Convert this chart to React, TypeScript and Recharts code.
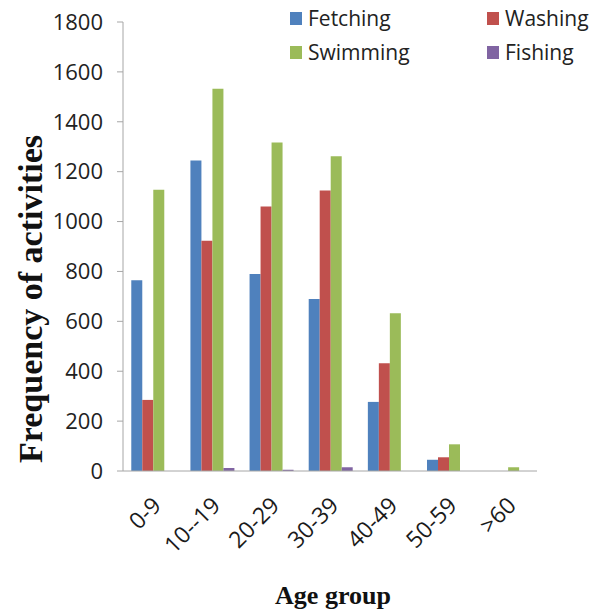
import { Bar, BarChart, Label, XAxis, YAxis } from "recharts";

const ageGroups = ["0-9", "10--19", "20-29", "30-39", "40-49", "50-59", ">60"];
const fetching = [765, 1245, 790, 690, 277, 45, 0];
const washing = [285, 923, 1060, 1125, 432, 55, 0];
const swimming = [1128, 1532, 1317, 1262, 632, 107, 15];
const fishing = [0, 12, 5, 15, 0, 0, 0];
const yTicks = [0, 200, 400, 600, 800, 1000, 1200, 1400, 1600, 1800];

const series = [
  { key: "fetching", name: "Fetching", color: "#4F81BD" },
  { key: "washing", name: "Washing", color: "#C0504D" },
  { key: "swimming", name: "Swimming", color: "#9BBB59" },
  { key: "fishing", name: "Fishing", color: "#8064A2" },
];

const data = ageGroups.map((g, i) => ({
  group: g,
  fetching: fetching[i],
  washing: washing[i],
  swimming: swimming[i],
  fishing: fishing[i],
}));

const sans = "'Open Sans', sans-serif";
const serif = "'Liberation Serif', 'Times New Roman', serif";

function AgeTick({ x, y, payload }: { x?: number; y?: number; payload?: { value: string } }) {
  return (
    <g transform={`translate(${(x ?? 0) + 10},${(y ?? 0) + 28})`}>
      <text
        textAnchor="end"
        transform="rotate(-45)"
        fill="#1a1a1a"
        fontSize={23}
        fontFamily={sans}
      >
        {payload?.value}
      </text>
    </g>
  );
}

// legend drawn as a plain overlay so it doesn't eat plot space
function LegendGrid() {
  const cols = [0, 197];
  return (
    <div style={{ position: "absolute", left: 290, top: 1, width: 300, height: 70 }}>
      {series.map((s, i) => (
        <div
          key={s.key}
          style={{
            position: "absolute",
            left: cols[i % 2],
            top: i < 2 ? 0 : 34,
            display: "flex",
            alignItems: "center",
            fontFamily: sans,
            fontSize: 21,
            color: "#222",
            lineHeight: "34px",
          }}
        >
          <span
            style={{
              display: "inline-block",
              width: 12,
              height: 13,
              background: s.color,
              marginRight: 6,
            }}
          />
          {s.name}
        </div>
      ))}
    </div>
  );
}

export default function App() {
  return (
    <div style={{ position: "absolute", left: 0, top: 0, width: 591, height: 612, background: "#fff" }}>
      <BarChart
        width={591}
        height={612}
        data={data}
        margin={{ top: 22, right: 54, bottom: 0, left: 0 }}
        barCategoryGap="14%"
        barGap={0}
      >
        <YAxis
          width={123}
          domain={[0, 1800]}
          ticks={yTicks}
          interval={0}
          tickSize={6}
          tickMargin={14}
          stroke="#A6A6A6"
          tick={{ fill: "#222", fontSize: 22, fontFamily: sans }}
        >
          <Label
            content={() => (
              <text
                x={30}
                y={299}
                transform="rotate(-90, 30, 299)"
                textAnchor="middle"
                dominantBaseline="central"
                fontFamily={serif}
                fontWeight="bold"
                fontSize={34}
                fill="#111"
              >
                Frequency of activities
              </text>
            )}
          />
        </YAxis>
        <XAxis
          dataKey="group"
          height={141}
          interval={0}
          tickLine={false}
          stroke="#A6A6A6"
          tick={<AgeTick />}
        >
          <Label
            content={() => (
              <text
                x={333}
                y={604}
                textAnchor="middle"
                fontFamily={serif}
                fontWeight="bold"
                fontSize={26}
                fill="#111"
              >
                Age group
              </text>
            )}
          />
        </XAxis>
        {series.map((s) => (
          <Bar
            key={s.key}
            dataKey={s.key}
            name={s.name}
            fill={s.color}
            isAnimationActive={false}
          />
        ))}
      </BarChart>
      <LegendGrid />
    </div>
  );
}
